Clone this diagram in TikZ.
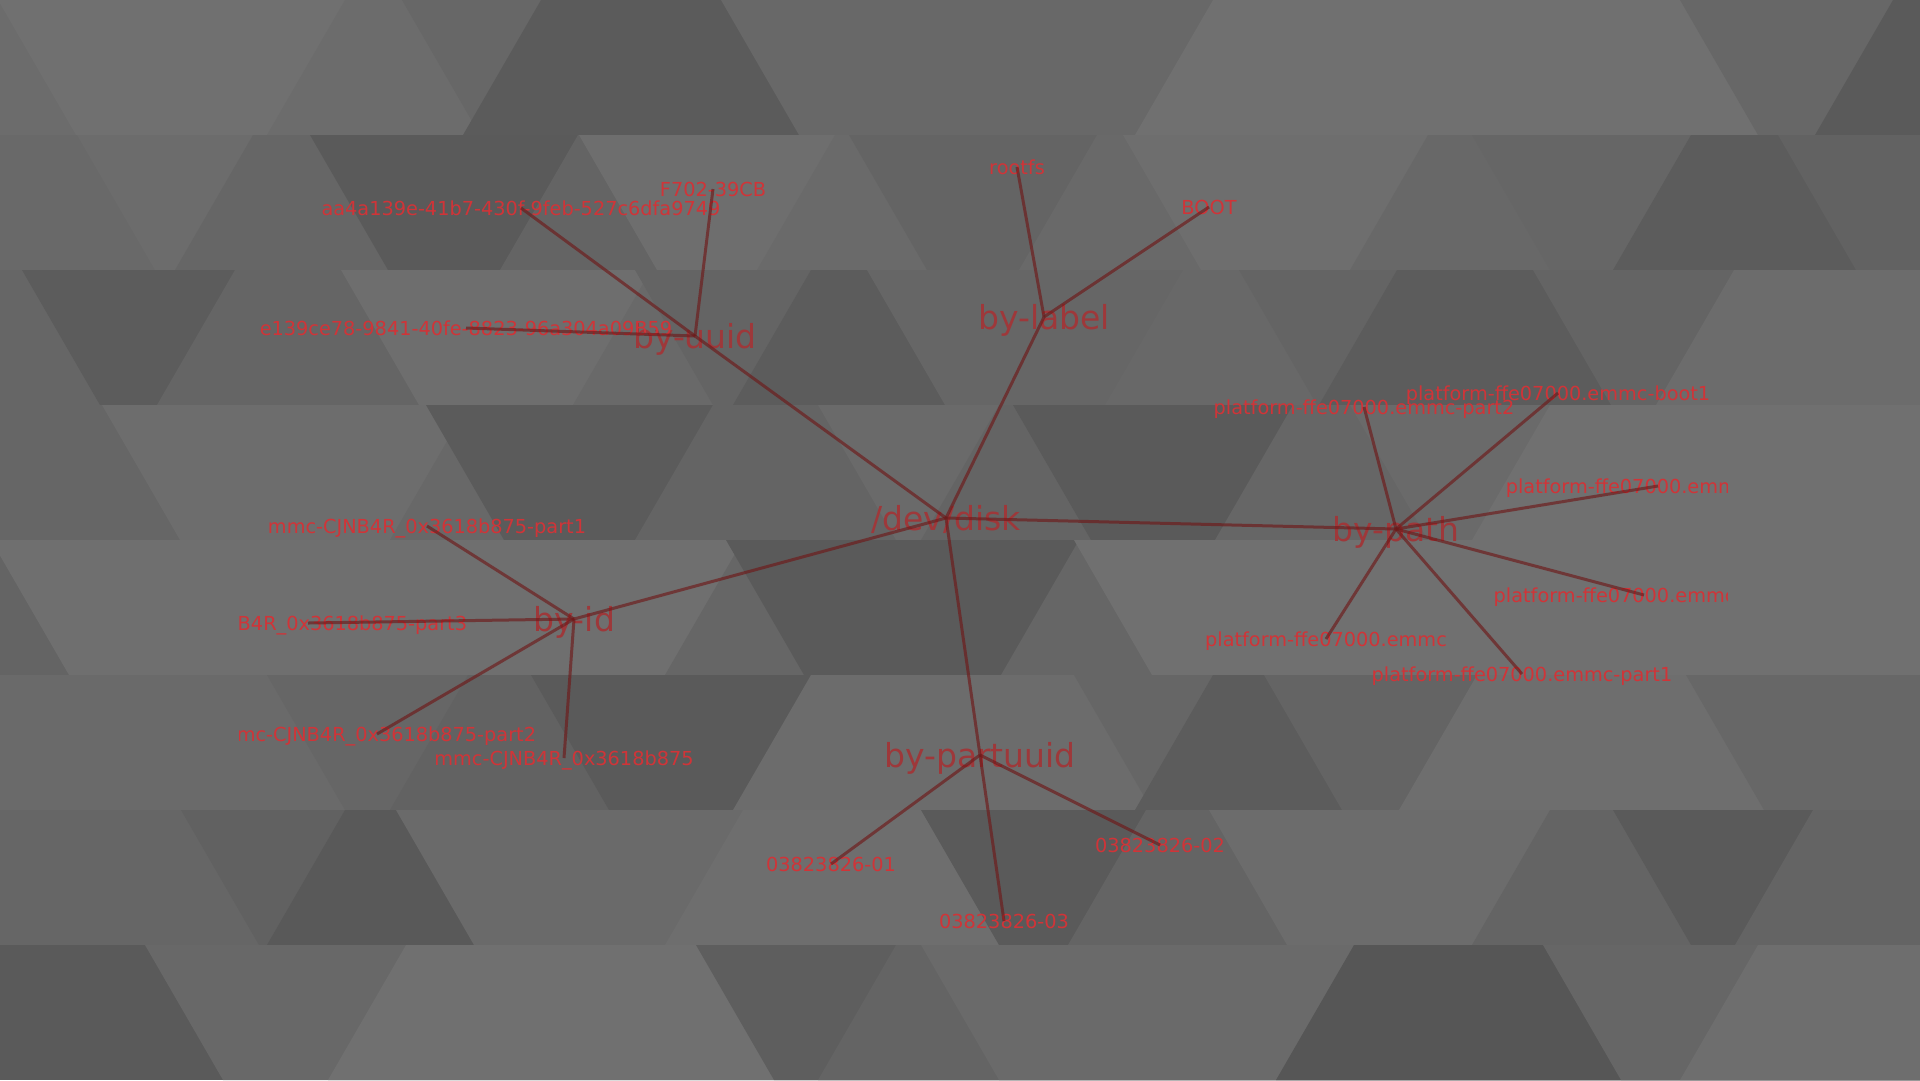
\documentclass[tikz,border=0pt]{standalone}
\usepackage{fontspec}
\setmainfont{DejaVu Sans}
\definecolor{leafred}{RGB}{208,52,56}
\definecolor{hubred}{RGB}{158,56,58}
\definecolor{linkred}{RGB}{110,25,25}
\definecolor{bgbase}{RGB}{102,102,102}
\newcommand\bgband[3]{%
  \definecolor{tmpc}{RGB}{#2,#2,#2}%
  \fill[tmpc] (-10,#1) rectangle (1930,#1+135);
  \foreach \b/\s/\v in {#3} {%
    \definecolor{tmpc}{RGB}{\v,\v,\v}%
    \pgfmathsetmacro\xtop{\b-39*(\s)}%
    \pgfmathsetmacro\xbot{\b+39*(\s)}%
    \fill[tmpc] (\xtop,#1) -- (1930,#1) -- (1930,#1+135) -- (\xbot,#1+135) -- cycle;
  }%
}
\begin{document}
\begin{tikzpicture}[x=0.5bp,y=-0.5bp,
  leaf/.style={text=leafred, font=\fontsize{9.65bp}{11bp}\selectfont, inner sep=0pt, text height=7.1bp, text depth=0pt},
  hub/.style={text=hubred, font=\fontsize{16.5bp}{19bp}\selectfont, inner sep=0pt, text height=12.2bp, text depth=0pt},
  link/.style={draw=linkred, line width=1.5bp, draw opacity=0.65}]
\useasboundingbox (0,0) rectangle (1920,1080);
% ---------- background ----------
\begin{scope}
\clip (0,0) rectangle (1920,1080);
\fill[bgbase] (0,0) rectangle (1920,1080);
\bgband{0}{108}{37/1/112, 306/-1/108, 441/1/103, 502/-1/91, 760/1/104, 1174/-1/112, 1719/1/103, 1854/-1/90}
\bgband{135}{105}{116/1/108, 214/-1/102, 349/1/90, 539/-1/100, 618/1/110, 796/-1/106, 888/1/100, 1058/-1/105, 1162/1/110, 1389/-1/104, 1511/1/102, 1652/-1/92, 1817/1/98}
\bgband{270}{102}{61/1/92, 196/-1/101, 380/1/110, 612/-1/105, 674/1/100, 772/-1/92, 906/1/102, 1144/-1/104, 1278/1/100, 1358/-1/92, 1572/1/100, 1695/-1/108}
\bgband{405}{102}{141/1/109, 429/-1/104, 465/1/91, 674/-1/100, 857/1/106, 960/-1/100, 1052/1/90, 1254/-1/102, 1389/1/106, 1511/-1/112}
\bgband{540}{100}{30/1/111, 704/-1/102, 765/1/90, 1040/-1/102, 1113/1/112}
\bgband{675}{106}{306/1/102, 429/-1/98, 570/1/90, 772/-1/108, 1113/1/102, 1174/-1/92, 1303/1/100, 1438/-1/110, 1725/1/103}
\bgband{810}{102}{220/1/97, 306/-1/89, 435/1/106, 704/-1/110, 960/1/90, 1107/-1/100, 1248/1/108, 1511/-1/100, 1652/1/90, 1774/-1/100}
\bgband{945}{90}{184/1/104, 367/-1/112, 735/1/94, 857/-1/100, 960/1/106, 1315/-1/86, 1582/1/102, 1719/-1/110}
\end{scope}
% ---------- labels (clipped to the view) ----------
\begin{scope}
\clip (239,0) rectangle (1727,1080);
\node[hub] (disk) at (946,518) {/dev/disk};
\node[hub] (uuid) at (695,336) {by-uuid};
\node[hub] (label) at (1044,317) {by-label};
\node[hub] (path) at (1396,529) {by-path};
\node[hub] (id) at (574,619) {by-id};
\node[hub] (partuuid) at (980,755) {by-partuuid};
\node[leaf] (u1) at (713,189) {F702-39CB};
\node[leaf] (u2) at (521,208) {aa4a139e-41b7-430f-9feb-527c6dfa9749};
\node[leaf] (u3) at (466,328) {e139ce78-9841-40fe-8823-96a304a09B59};
\node[leaf] (l1) at (1017,167) {rootfs};
\node[leaf] (l2) at (1209,207) {BOOT};
\node[leaf] (p1) at (1558,393) {platform-ffe07000.emmc-boot1};
\node[leaf] (p2) at (1364,407) {platform-ffe07000.emmc-part2};
\node[leaf] (p3) at (1658,486) {platform-ffe07000.emmc-boot0};
\node[leaf] (p4) at (1644,595) {platform-ffe07000.emmc-part3};
\node[leaf] (p5) at (1326,639) {platform-ffe07000.emmc};
\node[leaf] (p6) at (1522,674) {platform-ffe07000.emmc-part1};
\node[leaf] (i1) at (427,526) {mmc-CJNB4R\_0x3618b875-part1};
\node[leaf] (i2) at (308,623) {mmc-CJNB4R\_0x3618b875-part3};
\node[leaf] (i3) at (377,734) {mmc-CJNB4R\_0x3618b875-part2};
\node[leaf] (i4) at (564,758) {mmc-CJNB4R\_0x3618b875};
\node[leaf] (q1) at (831,864) {03823826-01};
\node[leaf] (q2) at (1160,845) {03823826-02};
\node[leaf] (q3) at (1004,921) {03823826-03};
\end{scope}
% ---------- connectors ----------
\foreach \h in {uuid,label,path,id,partuuid}
  \draw[link] (disk.center) -- (\h.center);
\foreach \c in {u1,u2,u3} \draw[link] (uuid.center) -- (\c.center);
\foreach \c in {l1,l2} \draw[link] (label.center) -- (\c.center);
\foreach \c in {p1,p2,p3,p4,p5,p6} \draw[link] (path.center) -- (\c.center);
\foreach \c in {i1,i2,i3,i4} \draw[link] (id.center) -- (\c.center);
\foreach \c in {q1,q2,q3} \draw[link] (partuuid.center) -- (\c.center);
\end{tikzpicture}
\end{document}
